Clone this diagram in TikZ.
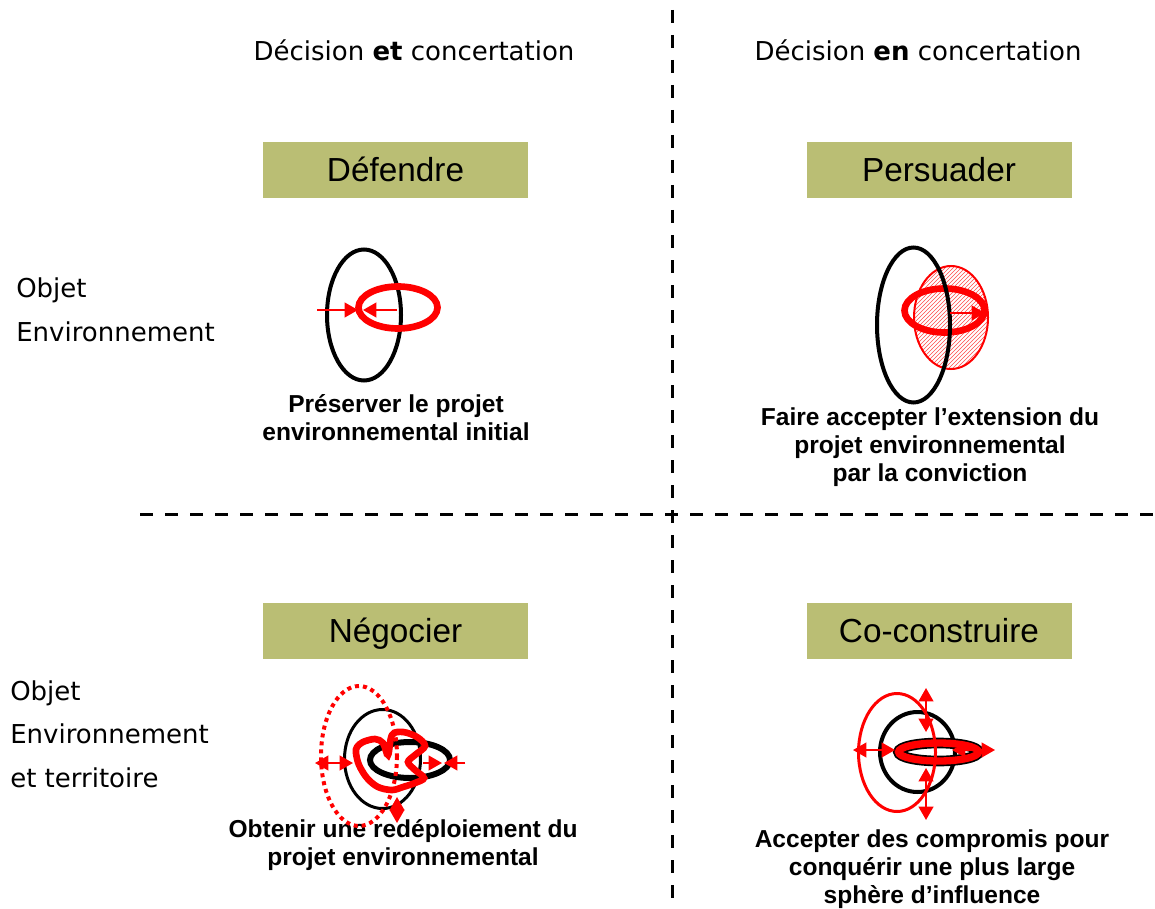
\documentclass[tikz,border=0pt]{standalone}
\usepackage{fontspec}
\setmainfont{DejaVu Sans}
\newfontfamily\arialfont{Liberation Sans}
\usepackage{xcolor}
\usetikzlibrary{arrows.meta,patterns,positioning}
\definecolor{boxolive}{RGB}{186,190,116}

\begin{document}
\begin{tikzpicture}[
    x=0.75pt, y=-0.75pt,
    >={Triangle[length=10pt,width=11pt]},
    header/.style={font=\fontsize{19.5}{24}\selectfont, anchor=base, inner sep=0pt},
    axislabel/.style={font=\fontsize{19.5}{32.5}\selectfont, align=left, anchor=base west, inner sep=0pt},
    stagebox/.style={
        fill=boxolive,
        minimum width=198.75pt,
        minimum height=42pt,
        inner sep=0pt,
        text height=22.9pt,
        text depth=5pt,
        font=\arialfont\fontsize{25}{30}\selectfont
    },
    caption/.style={font=\arialfont\bfseries\fontsize{18.4}{21}\selectfont, align=center, inner sep=0pt},
    divider/.style={line width=2.25pt, dash pattern=on 9.75pt off 9pt},
    outline/.style={draw=black, line width=3pt},
    thinline/.style={draw=black, line width=2.25pt},
    ring/.style={draw=red, line width=5pt},
    push/.style={->, draw=red, fill=red, line width=1.5pt},
    pushboth/.style={<->, draw=red, fill=red, line width=1.5pt}
]
\useasboundingbox (0,0) rectangle (1155,909);

% quadrant dividers
\coordinate (vtop) at (672,10);
\coordinate (vbot) at (672,909);
\coordinate (hleft) at (140,514);
\coordinate (hright) at (1155,514);
\draw[divider] (vtop) -- (vbot);
\draw[divider] (hleft) -- (hright);

% column and row headings
\node[header] (colleft) at (414,61) {Décision \textbf{et} concertation};
\node[header] (colright) at (918,61) {Décision \textbf{en} concertation};
\node[axislabel] (rowtop) at (16,341) {Objet\\Environnement};
\node[axislabel] (rowbot) at (10,787) {Objet\\Environnement\\et territoire};

% stage boxes
\node[stagebox] (defendre) at (395.5,170) {Défendre};
\node[stagebox] (persuader) at (939,170) {Persuader};
\node[stagebox] (negocier) at (395.5,631) {Négocier};
\node[stagebox] (coconstruire) at (939,631) {Co-construire};

% captions
\node[caption] (capdef) at (396,418) {Préserver le projet\\environnemental initial};
\node[caption] (cappers) at (930,447) {Faire accepter l’extension du\\projet environnemental\\par la conviction};
\node[caption] (capneg) at (403,845) {Obtenir une redéploiement du\\projet environnemental};
\node[caption] (capcoc) at (932,869) {Accepter des compromis pour\\conquérir une plus large\\sphère d’influence};

% Defendre
\draw[outline] (364,315) ellipse [x radius=37, y radius=65.5];
\draw[ring] (398,307.5) ellipse [x radius=39.5, y radius=21];
\draw[push] (317,310) -- (358,310);
\draw[push] (397,310) -- (363,310);

% Persuader
\draw[draw=red, line width=1.5pt, pattern=north east lines, pattern color=red!70] (951,317.5) ellipse [x radius=37, y radius=51.5];
\draw[ring] (944.5,310.5) ellipse [x radius=40, y radius=22];
\draw[outline] (913.5,325) ellipse [x radius=36.5, y radius=77.5];
\draw[push] (950,313) -- (985,313);

% Negocier
\draw[thinline] (382.5,759) ellipse [x radius=38, y radius=49.5];
\draw[draw=black, line width=4.5pt] (410,760) ellipse [x radius=40, y radius=18];
\draw[ring] plot[smooth cycle, tension=0.55] coordinates {
    (357,747) (363,742) (375,739) (383,743) (388,755) (392,735) (403,732)
    (417,737) (425,746) (415,755) (408,762) (415,770) (424,778) (415,783)
    (403,787) (392,790) (378,787) (367,778) (359,765) (356,753)};
\draw[draw=red, line width=3pt, dash pattern=on 3pt off 3pt] (359,756) ellipse [x radius=38, y radius=70];
\draw[pushboth] (315,763) -- (353,763);
\draw[push] (423,763) -- (442,763);
\draw[push] (465,763) -- (444,763);
\draw[pushboth] (397,797) -- (397,823);

% Co-construire
\draw[outline] (917.5,752) ellipse [x radius=37.5, y radius=40];
\draw[draw=black, line width=8pt] (938.5,752) ellipse [x radius=40, y radius=9];
\draw[draw=red, line width=5.5pt] (938.5,752) ellipse [x radius=40, y radius=9];
\draw[draw=red, line width=2.25pt] (897,752.5) ellipse [x radius=38.5, y radius=59];
\draw[pushboth] (853,750) -- (895,750);
\draw[pushboth] (952,750) -- (995,750);
\draw[pushboth] (926,688) -- (926,732);
\draw[pushboth] (926,768) -- (926,820);

\end{tikzpicture}
\end{document}
